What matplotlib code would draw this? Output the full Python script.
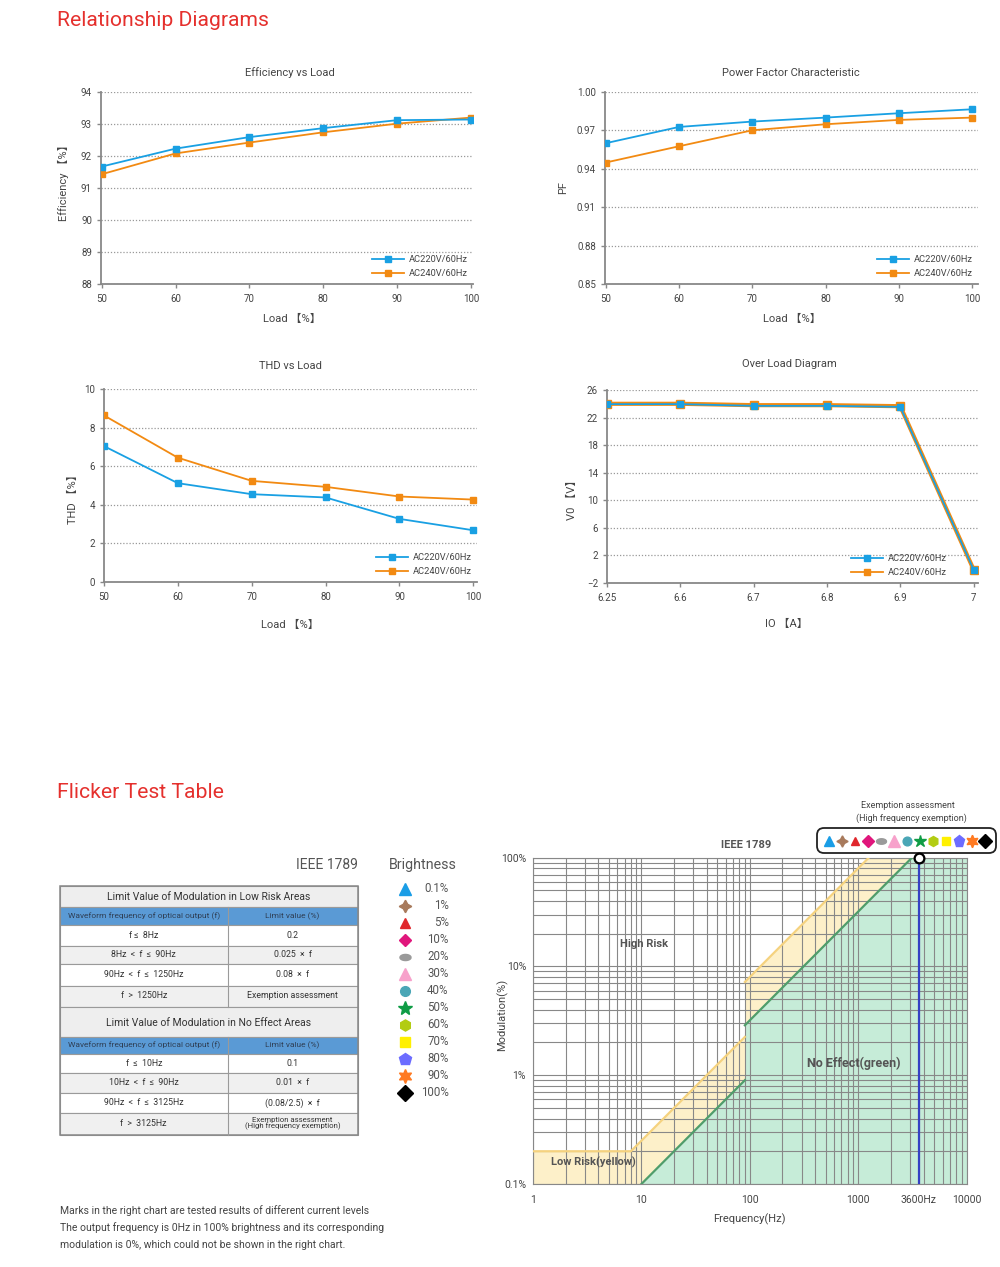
import matplotlib
matplotlib.use('Agg')
import matplotlib.pyplot as plt
import numpy as np
from matplotlib.patches import Rectangle, FancyBboxPatch
from matplotlib.lines import Line2D
from matplotlib.path import Path
from matplotlib.ticker import LogLocator, NullFormatter

plt.rcParams['font.family'] = ['Roboto', 'Noto Sans CJK SC', 'DejaVu Sans']

## data
load = [50, 60, 70, 80, 90, 100]
eff_220 = [91.67, 92.23, 92.59, 92.87, 93.12, 93.14]
eff_240 = [91.43, 92.08, 92.42, 92.74, 93.01, 93.20]
pf_220 = [0.960, 0.9727, 0.9769, 0.980, 0.9834, 0.9865]
pf_240 = [0.9449, 0.9576, 0.9701, 0.9748, 0.9782, 0.980]
thd_220 = [7.04, 5.12, 4.55, 4.38, 3.27, 2.68]
thd_240 = [8.63, 6.44, 5.24, 4.93, 4.43, 4.27]
io_labels = ['6.25', '6.6', '6.7', '6.8', '6.9', '7']
vo_220 = [23.95, 23.95, 23.7, 23.7, 23.55, -0.05]
vo_240 = [24.0, 24.0, 23.8, 23.8, 23.65, -0.05]
series_names = ['AC220V/60Hz', 'AC240V/60Hz']

# IEEE 1789 limit curves (frequency Hz, modulation %)
low_risk_f = [1, 8, 90, 90, 1250, 10000]
low_risk_mod = [0.2, 0.2, 2.25, 7.2, 100, 100]
no_effect_f = [10, 90, 90, 3125, 10000]
no_effect_mod = [0.1, 0.9, 2.88, 100, 100]
test_freq = 3600
test_mod = 100

brightness = ['0.1%', '1%', '5%', '10%', '20%', '30%', '40%', '50%', '60%', '70%', '80%', '90%', '100%']
t = np.linspace(0, 2 * np.pi, 40)
ellipse = Path(np.c_[np.cos(t), 0.55 * np.sin(t)])
b_markers = ['^', (4, 1, 0), '^', 'D', ellipse, '^', 'o', '*', 'h', 's', 'p', (6, 1, 0), 'D']
b_colors = ['#1a9de6', '#a87a5c', '#e0262c', '#e0167c', '#9a9a9a', '#f7a1cb', '#4aa6b6',
            '#0f9c45', '#b2cc12', '#fff000', '#6c6cff', '#ff7a22', '#000000']
b_sizes = [8, 9, 7, 6.5, 8, 9, 7, 10, 8, 7, 9, 10, 8]

low_rows = [('f ≤  8Hz', '0.2'), ('8Hz  <  f  ≤  90Hz', '0.025  ×  f'),
            ('90Hz  <  f  ≤  1250Hz', '0.08  ×  f'), ('f  >  1250Hz', 'Exemption assessment')]
none_rows = [('f  ≤  10Hz', '0.1'), ('10Hz  <  f  ≤  90Hz', '0.01  ×  f'),
             ('90Hz  <  f  ≤  3125Hz', '(0.08/2.5)  ×  f'),
             ('f  >  3125Hz', 'Exemption assessment\n(High frequency exemption)')]

W, H = 1000, 1267
fig = plt.figure(figsize=(10, 12.67), dpi=100)

def rect(x0, y0, x1, y1):
    return [x0 / W, 1 - y1 / H, (x1 - x0) / W, (y1 - y0) / H]

ov = fig.add_axes([0, 0, 1, 1])
ov.set_xlim(0, W)
ov.set_ylim(H, 0)
ov.axis('off')

BLUE = '#19a0e3'
ORANGE = '#f28a12'
TXT = '#444444'
RED = '#e5302d'

ov.text(57, 21, 'Relationship Diagrams', color=RED, fontsize=15.2, va='center', ha='left')
ov.text(57, 793, 'Flicker Test Table', color=RED, fontsize=15.2, va='center', ha='left')


def line_chart(box, x, y1, y2, xlim, ylim, yticks, ylabels=None, xticklabels=None, thick=False, leg_x=1.0):
    ax = fig.add_axes(rect(*box))
    if thick:
        ax.plot(x, y2, color=ORANGE, lw=3.0, marker='s', ms=6, mfc=ORANGE, mec=ORANGE, zorder=3)
        ax.plot(x, y1, color=BLUE, lw=1.3, marker='s', ms=4.5, mfc=BLUE, mec=BLUE, zorder=4)
    else:
        ax.plot(x, y1, color=BLUE, lw=1.3, marker='s', ms=4, zorder=4)
        ax.plot(x, y2, color=ORANGE, lw=1.3, marker='s', ms=4, zorder=3)
    h = [Line2D([], [], color=BLUE, lw=1.3, marker='s', ms=4),
         Line2D([], [], color=ORANGE, lw=1.3, marker='s', ms=4)]
    ax.set_xlim(*xlim)
    ax.set_ylim(*ylim)
    ax.set_yticks(yticks)
    if ylabels is not None:
        ax.set_yticklabels(ylabels)
    ax.set_xticks(x)
    if xticklabels is not None:
        ax.set_xticklabels(xticklabels)
    ax.grid(axis='y', linestyle=(0, (1, 1.5)), color='#999999', lw=0.9)
    for s in ['top', 'right']:
        ax.spines[s].set_visible(False)
    for s in ['left', 'bottom']:
        ax.spines[s].set_color('#888888')
        ax.spines[s].set_linewidth(1.3)
    ax.tick_params(labelsize=7, colors='#888888', labelcolor=TXT, length=3, width=1)
    ax.tick_params(axis='x', pad=4)
    ax.set_facecolor('none')
    leg = ax.legend(h, series_names, loc='lower right', bbox_to_anchor=(leg_x, 0.0), frameon=False, fontsize=6.7,
                    handlelength=3.4, labelspacing=0.55, handletextpad=0.5, borderaxespad=0.2)
    for tx in leg.get_texts():
        tx.set_color(TXT)
    return ax


line_chart((101, 92, 473, 284), load, eff_220, eff_240, (49.9, 100.3), (88, 94), range(88, 95))
line_chart((605, 92, 978, 284), load, pf_220, pf_240, (49.9, 100.8), (0.85, 1.0),
           [0.85, 0.88, 0.91, 0.94, 0.97, 1.0], ['0.85', '0.88', '0.91', '0.94', '0.97', '1.00'])
line_chart((104, 389, 477, 582), load, thd_220, thd_240, (50, 100.5), (0, 10), range(0, 11, 2))
line_chart((607, 390, 978, 583), list(range(len(io_labels))), vo_220, vo_240, (0, 5.06), (-2, 26),
           range(-2, 27, 4), xticklabels=io_labels, thick=True, leg_x=0.93)

# chart titles and axis labels
for x, y, s in [(290, 73, 'Efficiency vs Load'), (791, 73, 'Power Factor Characteristic'),
                (290, 366, 'THD vs Load'), (789, 364, 'Over Load Diagram'),
                (292, 319, 'Load 【%】'), (792, 319, 'Load 【%】'), (290, 625, 'Load 【%】'),
                (786, 624, 'IO 【A】')]:
    ov.text(x, y, s, fontsize=8, color=TXT, ha='center', va='center')
for x, y, s in [(63, 180, 'Efficiency 【%】'), (563, 188, 'PF'), (73, 497, 'THD 【%】'), (572, 497, 'V0 【V】')]:
    ov.text(x, y, s, fontsize=8, color=TXT, ha='center', va='center', rotation=90)

## flicker table
ov.text(358, 865, 'IEEE 1789', fontsize=10, color='#555555', ha='right', va='center')
ov.text(389, 865, 'Brightness', fontsize=10.3, color='#555555', ha='left', va='center')

xl, xm, xr = 60, 227.5, 357.5
edges = [886, 907, 925, 945.5, 963.5, 985.5, 1006.5, 1036.5, 1054, 1072.5, 1093, 1112.5, 1135]
kinds = ['title', 'head', 'w', 'g', 'w', 'g', 'title', 'head', 'w', 'g', 'w', 'g']
cells = [('Limit Value of Modulation in Low Risk Areas', None),
         ('Waveform frequency of optical output (f)', 'Limit value (%)')] + low_rows + \
        [('Limit Value of Modulation in No Effect Areas', None),
         ('Waveform frequency of optical output (f)', 'Limit value (%)')] + none_rows
fills = {'title': '#eeeeee', 'head': '#5a9ad5', 'w': '#ffffff', 'g': '#f0f0f0'}
for i, (kind, (a, b)) in enumerate(zip(kinds, cells)):
    y0, y1 = edges[i], edges[i + 1]
    ov.add_patch(Rectangle((xl, y0), xr - xl, y1 - y0, facecolor=fills[kind], edgecolor='#9a9a9a', lw=0.8))
    yc = (y0 + y1) / 2
    if kind == 'title':
        ov.text((xl + xr) / 2, yc + 1, a, fontsize=7.5, color='#333333', ha='center', va='center')
        continue
    ov.plot([xm, xm], [y0, y1], color='#9a9a9a', lw=0.8)
    fs = 6.0 if kind == 'head' else 6.3
    col = '#2f3f55' if kind == 'head' else '#333333'
    ov.text((xl + xm) / 2, yc, a, fontsize=fs, color=col, ha='center', va='center')
    ov.text((xm + xr) / 2, yc, b, fontsize=fs if '\n' not in b else 5.6, color=col, ha='center',
            va='center', linespacing=0.95)
ov.add_patch(Rectangle((xl, edges[0]), xr - xl, edges[-1] - edges[0], facecolor='none', edgecolor='#888888', lw=1.1))

# brightness legend
lg = fig.add_axes(rect(392, 880, 455, 1101))
lg.set_xlim(0, 1)
lg.set_ylim(len(brightness) - 0.5, -0.5)
lg.axis('off')
for i, (lab, m, c, s) in enumerate(zip(brightness, b_markers, b_colors, b_sizes)):
    lg.plot(0.2, i, marker=m, color=c, ms=s, mec=c, ls='none')
    lg.text(0.9, i, lab, fontsize=8.3, color='#555555', ha='right', va='center')

## IEEE 1789 chart
fx = fig.add_axes(rect(533, 857.7, 966.7, 1184))
fx.set_xscale('log')
fx.set_yscale('log')
fx.set_xlim(1, 10000)
fx.set_ylim(0.1, 100)
fx.fill_between(low_risk_f, low_risk_mod, 0.1, color='#fdf0c9', lw=0, zorder=1)
fx.fill_between(no_effect_f, no_effect_mod, 0.1, color='#c6ecd8', lw=0, zorder=1.1)
fx.plot(low_risk_f[:3], low_risk_mod[:3], color='#f5d27e', lw=1.6, zorder=3)
fx.plot(low_risk_f[3:5], low_risk_mod[3:5], color='#f5d27e', lw=1.6, zorder=3)
fx.plot(no_effect_f[:2], no_effect_mod[:2], color='#4f9d6b', lw=1.6, zorder=3)
fx.plot(no_effect_f[2:4], no_effect_mod[2:4], color='#4f9d6b', lw=1.6, zorder=3)
fx.axvline(test_freq, color='#3541c4', lw=1.6, zorder=4)
fx.plot(test_freq, test_mod, marker='o', ms=7, mfc='white', mec='black', mew=1.6, clip_on=False, zorder=6)
fx.xaxis.set_minor_locator(LogLocator(base=10, subs=np.arange(2, 10)))
fx.yaxis.set_minor_locator(LogLocator(base=10, subs=np.arange(2, 10)))
fx.xaxis.set_minor_formatter(NullFormatter())
fx.yaxis.set_minor_formatter(NullFormatter())
fx.set_xticks([1, 10, 100, 1000, test_freq, 10000])
fx.set_xticklabels(['1', '10', '100', '1000', '3600Hz', '10000'])
fx.set_yticks([0.1, 1, 10, 100])
fx.set_yticklabels(['0.1%', '1%', '10%', '100%'])
fx.get_xticklabels()[4].set_color('#1c1c8c')
fx.grid(which='both', color='#888888', lw=0.8, zorder=2)
fx.set_axisbelow(False)
fx.tick_params(which='both', length=0, labelsize=7.5, labelcolor=TXT)
fx.tick_params(axis='x', pad=8)
fx.tick_params(axis='y', pad=5)
for s in fx.spines.values():
    s.set_color('#888888')
    s.set_linewidth(0.8)
fx.set_xlabel('Frequency(Hz)', fontsize=8, color=TXT, labelpad=6)
ov.text(502, 1015, 'Modulation(%)', fontsize=8, color=TXT, ha='center', va='center', rotation=90)
fx.text(0.256, 0.737, 'High Risk', transform=fx.transAxes, fontsize=8, fontweight='bold', color='#555555',
        ha='center', va='center')
fx.text(0.74, 0.37, 'No Effect(green)', transform=fx.transAxes, fontsize=9, fontweight='bold', color='#555555',
        ha='center', va='center')
fx.text(0.139, 0.066, 'Low Risk(yellow)', transform=fx.transAxes, fontsize=8, fontweight='bold', color='#555555',
        ha='center', va='center')
ov.text(746, 845, 'IEEE 1789', fontsize=8, fontweight='bold', color='#555555', ha='center', va='center')

# exemption callout box
ov.text(908, 805, 'Exemption assessment', fontsize=6.5, color=TXT, ha='center', va='center')
ov.text(911, 818, '(High frequency exemption)', fontsize=6.5, color=TXT, ha='center', va='center')
ov.add_patch(FancyBboxPatch((817, 828), 179, 25, boxstyle='round,pad=0,rounding_size=7',
                            facecolor='white', edgecolor='#222222', lw=1.3))
ex = fig.add_axes(rect(817, 828, 997, 853))
ex.set_xlim(-0.9, len(brightness) - 0.1)
ex.set_ylim(-1, 1)
ex.axis('off')
for i, (m, c, s) in enumerate(zip(b_markers, b_colors, b_sizes)):
    ex.plot(i, 0, marker=m, color=c, mec=c, ms=s * 0.9, ls='none', clip_on=False)

# notes
notes = ['Marks in the right chart are tested results of different current levels',
         'The output frequency is 0Hz in 100% brightness and its corresponding',
         'modulation is 0%, which could not be shown in the right chart.']
for i, n in enumerate(notes):
    ov.text(60, 1211 + 17 * i, n, fontsize=7.5, color=TXT, ha='left', va='center')

fig.savefig('out.png', dpi=100)
